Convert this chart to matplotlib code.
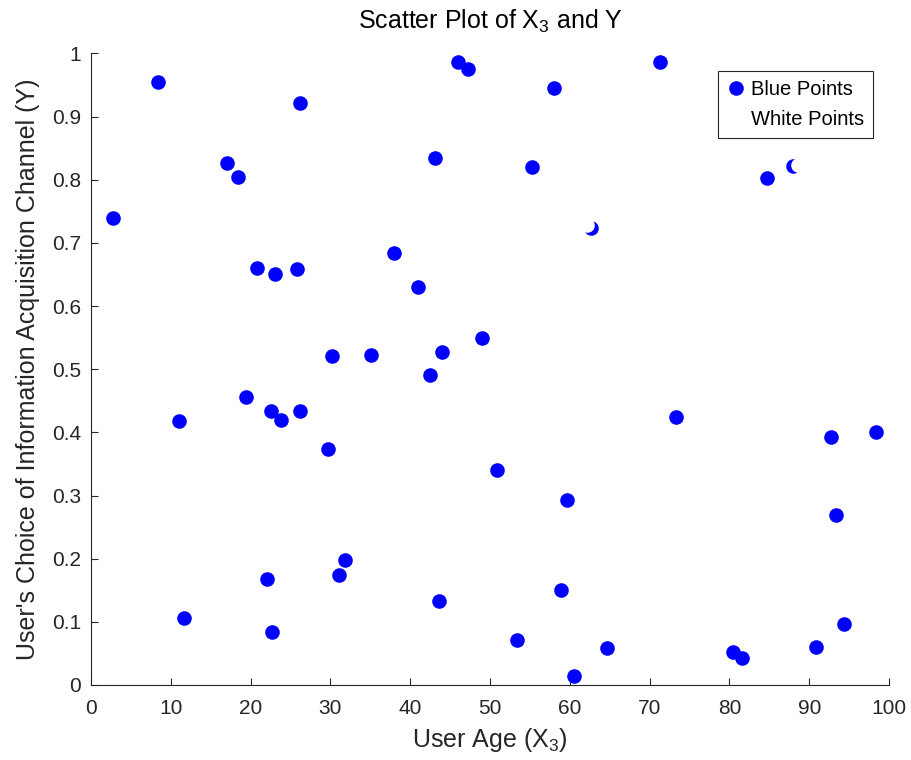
import matplotlib
matplotlib.use("Agg")
import matplotlib.pyplot as plt

plt.rcParams['font.family'] = ['Liberation Sans', 'DejaVu Sans']
plt.rcParams['mathtext.fontset'] = 'custom'
plt.rcParams['mathtext.rm'] = 'Liberation Sans'
plt.rcParams['mathtext.it'] = 'Liberation Sans'

blue_x = [2.8, 8.4, 17.0, 18.4, 26.2, 11.0, 11.7, 19.4, 20.8, 23.1, 25.8, 22.6, 23.8, 26.2,
          22.1, 22.7, 29.7, 30.2, 31.1, 31.8, 35.1, 38.0, 41.0, 43.1, 46.0, 47.2, 42.5, 44.0,
          43.6, 49.0, 50.9, 53.4, 55.3, 58.0, 58.9, 59.6, 60.5, 62.7, 64.7, 71.3, 73.3, 80.5,
          81.6, 84.7, 88.0, 90.9, 92.7, 93.4, 94.4, 98.4]
blue_y = [0.739, 0.954, 0.827, 0.805, 0.922, 0.418, 0.106, 0.456, 0.661, 0.650, 0.658, 0.434,
          0.419, 0.434, 0.168, 0.084, 0.373, 0.521, 0.174, 0.198, 0.522, 0.684, 0.630, 0.834,
          0.986, 0.976, 0.491, 0.528, 0.133, 0.549, 0.340, 0.071, 0.820, 0.945, 0.150, 0.293,
          0.014, 0.723, 0.059, 0.986, 0.424, 0.052, 0.043, 0.802, 0.821, 0.060, 0.392, 0.269,
          0.097, 0.400]
white_x = [62.2, 88.6]
white_y = [0.729, 0.823]

xticks = list(range(0, 101, 10))
yticks = [0, 0.1, 0.2, 0.3, 0.4, 0.5, 0.6, 0.7, 0.8, 0.9, 1]
ytick_labels = ['0', '0.1', '0.2', '0.3', '0.4', '0.5', '0.6', '0.7', '0.8', '0.9', '1']

fig = plt.figure(figsize=(9.12, 7.6), dpi=100)
ax = fig.add_axes([0.0998, 0.0987, 0.875, 0.831])

ax.plot(blue_x, blue_y, 'o', color='#0000ff', markersize=10.5, markeredgewidth=0,
        linestyle='none', label='Blue Points')
ax.plot(white_x, white_y, 'o', color='white', markersize=10.5, markeredgewidth=0,
        linestyle='none', label='White Points')

ax.set_xlim(0, 100)
ax.set_ylim(0, 1)
ax.set_xticks(xticks)
ax.set_yticks(yticks)
ax.set_yticklabels(ytick_labels)
for s in ['top', 'right']:
    ax.spines[s].set_visible(False)
for s in ['left', 'bottom']:
    ax.spines[s].set_color('#262626')
    ax.spines[s].set_linewidth(0.8)
ax.tick_params(direction='in', length=5, width=0.8, colors='#262626', labelsize=15,
               labelcolor='#262626')
ax.tick_params(axis='x', pad=10)
ax.tick_params(axis='y', pad=7)

ax.set_xlabel('User Age (X$_3$)', fontsize=18, color='#262626', labelpad=6)
ax.set_ylabel("User's Choice of Information Acquisition Channel (Y)", fontsize=18,
              color='#262626', labelpad=9)
ax.set_title('Scatter Plot of X$_3$ and Y', fontsize=18, color='black', pad=18)

leg = ax.legend(loc='upper right', bbox_to_anchor=(0.98, 0.972), fontsize=14.5,
                frameon=True, fancybox=False, edgecolor='#262626', framealpha=1,
                handletextpad=0.3, borderpad=0.45, labelspacing=0.55, handlelength=0.9,
                borderaxespad=0)
leg.get_frame().set_linewidth(0.8)

fig.savefig('out.png', dpi=100)
